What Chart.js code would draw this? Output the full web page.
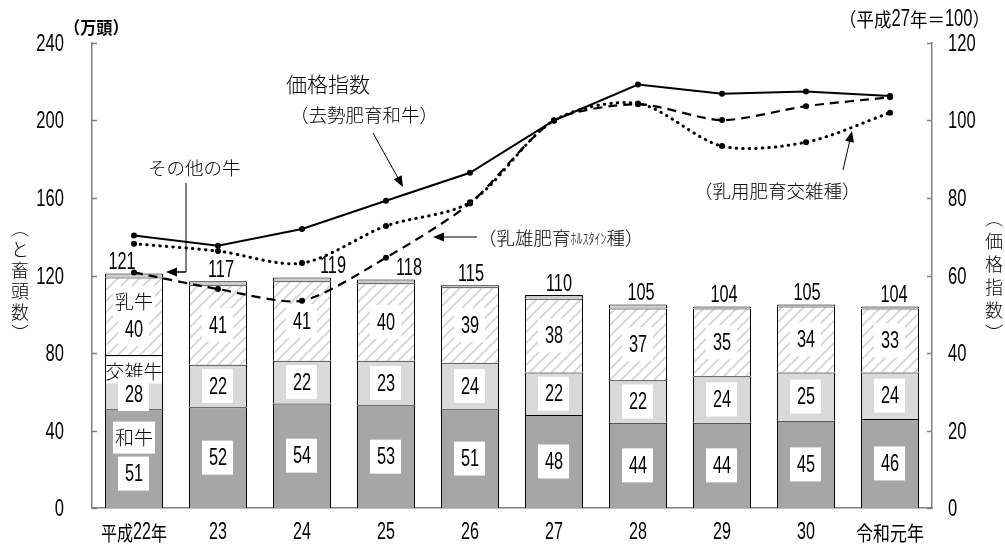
<!DOCTYPE html>
<html lang="ja">
<head>
<meta charset="utf-8">
<script src="https://cdn.jsdelivr.net/npm/chart.js@4.4.1/dist/chart.umd.min.js"></script>
<style>
  html, body { margin: 0; padding: 0; background: #fff; }
  #wrap { width: 1005px; height: 547px; }
</style>
</head>
<body>
<div id="wrap"><canvas id="chart" width="1005" height="547"></canvas></div>
<script>
// 年次
var years = ['平成22年', '23', '24', '25', '26', '27', '28', '29', '30', '令和元年'];

// と畜頭数（万頭）
var wagyu = [51, 52, 54, 53, 51, 48, 44, 44, 45, 46];
var kosatsu = [28, 22, 22, 23, 24, 22, 22, 24, 25, 24];
var nyugyu = [40, 41, 41, 40, 39, 38, 37, 35, 34, 33];
var totals = [121, 117, 119, 118, 115, 110, 105, 104, 105, 104];
var others = totals.map(function (t, i) { return t - wagyu[i] - kosatsu[i] - nyugyu[i]; });

// 価格指数（平成27年＝100）
var priceWagyu = [70.3, 67.7, 72.0, 79.3, 86.5, 100, 109.3, 106.9, 107.5, 106.3];
var priceHolstein = [60.8, 56.5, 53.5, 64.6, 78.6, 100, 104.2, 100.1, 103.7, 106.0];
var priceCross = [68.2, 66.3, 63.2, 72.8, 78.9, 100, 104.4, 93.4, 94.4, 102.0];

// 目盛
var headTicks = [0, 40, 80, 120, 160, 200, 240];
var indexTicks = [0, 20, 40, 60, 80, 100, 120];

var JP = '"Noto Sans CJK JP", sans-serif';
var NUM = '"Liberation Sans", Arial, sans-serif';
var AXIS = '#808080';

// 乳牛の斜線模様
function hatch() {
    var c = document.createElement('canvas');
    c.width = 11; c.height = 11;
    var g = c.getContext('2d');
    g.fillStyle = '#fff';
    g.fillRect(0, 0, 11, 11);
    g.strokeStyle = '#d4d4d4';
    g.lineWidth = 1.8;
    g.beginPath();
    g.moveTo(-2, 13); g.lineTo(13, -2);
    g.moveTo(-2, 2); g.lineTo(2, -2);
    g.moveTo(9, 13); g.lineTo(13, 9);
    g.stroke();
    return g.createPattern(c, 'repeat');
}

// 合計ラベルの横ずらし
var totalShift = [-12, 3, 31, 23, 1, 5, 3, 2, 1, 4];

// 長体の数字
function narrow(ctx, str, x, y, size, align, sx) {
    sx = sx || 0.68;
    ctx.save();
    ctx.font = size + 'px ' + NUM;
    ctx.textBaseline = 'middle';
    ctx.textAlign = align || 'center';
    ctx.translate(x, y);
    ctx.scale(sx, 1);
    ctx.fillText(str, 0, 0);
    ctx.restore();
}

// 部品ごとにフォントと横倍率を変えて描く
function mixed(ctx, parts, x, y, align) {
    var w = 0;
    parts.forEach(function (p) { ctx.font = p[1]; w += ctx.measureText(p[0]).width * (p[2] || 1); });
    var cx = align === 'right' ? x - w : align === 'center' ? x - w / 2 : x;
    ctx.textAlign = 'left';
    ctx.textBaseline = 'middle';
    parts.forEach(function (p) {
        var s = p[2] || 1;
        ctx.save();
        ctx.font = p[1];
        ctx.translate(cx, y);
        ctx.scale(s, 1);
        ctx.fillText(p[0], 0, 0);
        ctx.restore();
        ctx.font = p[1];
        cx += ctx.measureText(p[0]).width * s;
    });
}

function arrow(ctx, x1, y1, x2, y2, w) {
    var a = Math.atan2(y2 - y1, x2 - x1);
    ctx.save();
    ctx.strokeStyle = '#000';
    ctx.fillStyle = '#000';
    ctx.lineWidth = w || 1;
    ctx.beginPath();
    ctx.moveTo(x1, y1);
    ctx.lineTo(x2 - 8 * Math.cos(a), y2 - 8 * Math.sin(a));
    ctx.stroke();
    ctx.beginPath();
    ctx.moveTo(x2, y2);
    ctx.lineTo(x2 - 11 * Math.cos(a) + 4.5 * Math.sin(a), y2 - 11 * Math.sin(a) - 4.5 * Math.cos(a));
    ctx.lineTo(x2 - 11 * Math.cos(a) - 4.5 * Math.sin(a), y2 - 11 * Math.sin(a) + 4.5 * Math.cos(a));
    ctx.closePath();
    ctx.fill();
    ctx.restore();
}

function vertical(ctx, chars, x, y0, step) {
    ctx.font = '300 18px ' + JP;
    ctx.textAlign = 'center';
    ctx.textBaseline = 'middle';
    chars.forEach(function (ch, i) { ctx.fillText(ch, x, y0 + i * step); });
}

var segLabels = {
    id: 'segLabels',
    afterDatasetsDraw: function (chart) {
        var ctx = chart.ctx;
        ctx.save();
        ctx.textAlign = 'center';
        ctx.textBaseline = 'middle';
        var names = ['和牛', '交雑牛', '乳牛'];
        [0, 1, 2].forEach(function (d) {
            var meta = chart.getDatasetMeta(d);
            var vals = chart.data.datasets[d].data;
            meta.data.forEach(function (bar, i) {
                var mid = (bar.y + bar.base) / 2;
                var cy = mid;
                if (i === 0) {
                    var ny = [mid - 21, mid - 10, mid - 14][d];
                    cy = [mid + 15, mid + 12, mid + 13][d];
                    var nw = d === 1 ? bar.width - 2 : 42;
                    var nh = d === 1 ? 27 : 32;
                    ctx.fillStyle = '#fff';
                    ctx.fillRect(bar.x - nw / 2, ny - nh / 2 - (d === 1 ? 2 : 0), nw, nh);
                    ctx.fillStyle = '#000';
                    ctx.font = '300 19px ' + JP;
                    ctx.fillText(names[d], bar.x, ny);
                }
                ctx.fillStyle = '#fff';
                ctx.fillRect(bar.x - 16, cy - 17, 31, 34);
                ctx.fillStyle = '#000';
                narrow(ctx, String(vals[i]), bar.x, cy + 1, 24);
            });
        });
        // 合計
        var top = chart.getDatasetMeta(3);
        ctx.fillStyle = '#000';
        top.data.forEach(function (bar, i) {
            narrow(ctx, String(totals[i]), bar.x + totalShift[i], bar.y - 11, 24);
        });
        ctx.restore();
    }
};

var decorations = {
    id: 'decorations',
    afterDraw: function (chart) {
        var ctx = chart.ctx;
        var x = chart.scales.x, y = chart.scales.y, y1 = chart.scales.y1;
        ctx.save();
        // 内向きの目盛線と目盛ラベル
        ctx.strokeStyle = AXIS;
        ctx.lineWidth = 1.5;
        ctx.fillStyle = '#000';
        headTicks.forEach(function (v) {
            var py = Math.round(y.getPixelForValue(v)) + 0.5;
            ctx.beginPath(); ctx.moveTo(y.right, py); ctx.lineTo(y.right + 5, py); ctx.stroke();
            narrow(ctx, String(v), y.right - 28, py + 1, 23, 'right', 0.72);
        });
        indexTicks.forEach(function (v) {
            var py = Math.round(y1.getPixelForValue(v)) + 0.5;
            ctx.beginPath(); ctx.moveTo(y1.left - 5, py); ctx.lineTo(y1.left, py); ctx.stroke();
            narrow(ctx, String(v), y1.left + 16, py + 1, 23, 'left', 0.72);
        });
        years.forEach(function (lab, i) {
            var px = x.getPixelForTick(i);
            var m = lab.match(/^(\D*)(\d+)(\D*)$/);
            var parts = [];
            if (m) {
                if (m[1]) parts.push([m[1], '20px ' + JP, 0.8]);
                parts.push([m[2], '23px ' + NUM, 0.7]);
                if (m[3]) parts.push([m[3], '20px ' + JP, 0.8]);
            } else {
                parts.push([lab, '20px ' + JP, 0.85]);
            }
            mixed(ctx, parts, px, 533, 'center');
        });

        // 単位
        mixed(ctx, [['（万頭）', 'bold 17px ' + JP, 0.95]], 64, 28, 'left');
        mixed(ctx, [['（平成', '19px ' + JP, 0.92], ['27', '23px ' + NUM, 0.72], ['年＝', '19px ' + JP, 0.92],
                    ['100', '23px ' + NUM, 0.72], ['）', '19px ' + JP, 0.92]], 990, 20, 'right');
        vertical(ctx, ['︵', 'と', '畜', '頭', '数', '︶'], 20, 228, 21);
        vertical(ctx, ['︵', '価', '格', '指', '数', '︶'], 994, 218, 23);

        // 注記
        ctx.font = '300 21px ' + JP;
        ctx.textAlign = 'left';
        ctx.textBaseline = 'middle';
        ctx.fillText('価格指数', 286, 84);
        ctx.font = '300 18.5px ' + JP;
        ctx.fillText('（去勢肥育和牛）', 290, 115);
        arrow(ctx, 373, 133, 403, 187, 1);

        ctx.fillText('その他の牛', 148, 168);
        ctx.strokeStyle = '#000';
        ctx.lineWidth = 1;
        ctx.beginPath(); ctx.moveTo(186, 183); ctx.lineTo(186, 272); ctx.stroke();
        arrow(ctx, 186, 272, 166, 272, 1.5);

        mixed(ctx, [['（乳雄肥育', '300 18.5px ' + JP], ['ﾎﾙｽﾀｲﾝ', '300 15px ' + JP, 0.8], ['種）', '300 18.5px ' + JP]], 478, 238, 'left');
        arrow(ctx, 477, 237, 433, 237, 1);

        ctx.font = '300 18.5px ' + JP;
        ctx.textAlign = 'left';
        ctx.fillText('（乳用肥育交雑種）', 694, 191);
        arrow(ctx, 843, 170, 852, 131, 1);
        ctx.restore();
    }
};

var ctx = document.getElementById('chart').getContext('2d');
var chart = new Chart(ctx, {
    type: 'bar',
    data: {
        labels: years,
        datasets: [
            { label: '和牛', data: wagyu, backgroundColor: '#a6a6a6', borderColor: '#000', borderWidth: 1, stack: 'head', order: 2 },
            { label: '交雑牛', data: kosatsu, backgroundColor: '#d9d9d9', borderColor: '#000', borderWidth: 1, stack: 'head', order: 2 },
            { label: '乳牛', data: nyugyu, backgroundColor: hatch(), borderColor: '#000', borderWidth: 1, stack: 'head', order: 2 },
            { label: 'その他の牛', data: others, backgroundColor: '#cccccc', borderColor: '#000', borderWidth: 1, stack: 'head', order: 2 },
            {
                type: 'line', label: '去勢肥育和牛', data: priceWagyu, yAxisID: 'y1', order: 0,
                borderColor: '#000', borderWidth: 2, pointRadius: 3, pointBackgroundColor: '#000', pointBorderWidth: 0
            },
            {
                type: 'line', label: '乳雄肥育ホルスタイン種', data: priceHolstein, yAxisID: 'y1', order: 0,
                borderColor: '#000', borderWidth: 2.2, borderDash: [9, 6], tension: 0.25,
                pointRadius: 3, pointBackgroundColor: '#000', pointBorderWidth: 0
            },
            {
                type: 'line', label: '乳用肥育交雑種', data: priceCross, yAxisID: 'y1', order: 0,
                borderColor: '#000', borderWidth: 3, borderDash: [0.5, 6], borderCapStyle: 'round', tension: 0.3,
                pointRadius: 3, pointBackgroundColor: '#000', pointBorderWidth: 0
            }
        ]
    },
    options: {
        responsive: false,
        animation: false,
        devicePixelRatio: 1,
        layout: { padding: { top: 43, left: 0, right: 0, bottom: 0 } },
        plugins: { legend: { display: false }, tooltip: { enabled: false } },
        datasets: { bar: { barPercentage: 0.69, categoryPercentage: 1 } },
        scales: {
            x: {
                stacked: true,
                grid: { display: false, drawTicks: false },
                border: { display: true, color: AXIS, width: 1.5 },
                ticks: { display: false },
                afterFit: function (s) { s.height = 39; }
            },
            y: {
                stacked: true,
                position: 'left',
                min: 0, max: 240,
                grid: { display: false, drawTicks: false },
                border: { display: true, color: AXIS, width: 1.5 },
                ticks: { display: false, stepSize: 40 },
                afterFit: function (s) { s.width = 92; }
            },
            y1: {
                position: 'right',
                min: 0, max: 120,
                grid: { display: false, drawTicks: false },
                border: { display: true, color: AXIS, width: 1.5 },
                ticks: { display: false, stepSize: 20 },
                afterFit: function (s) { s.width = 73; }
            }
        }
    },
    plugins: [segLabels, decorations]
});
</script>
</body>
</html>
